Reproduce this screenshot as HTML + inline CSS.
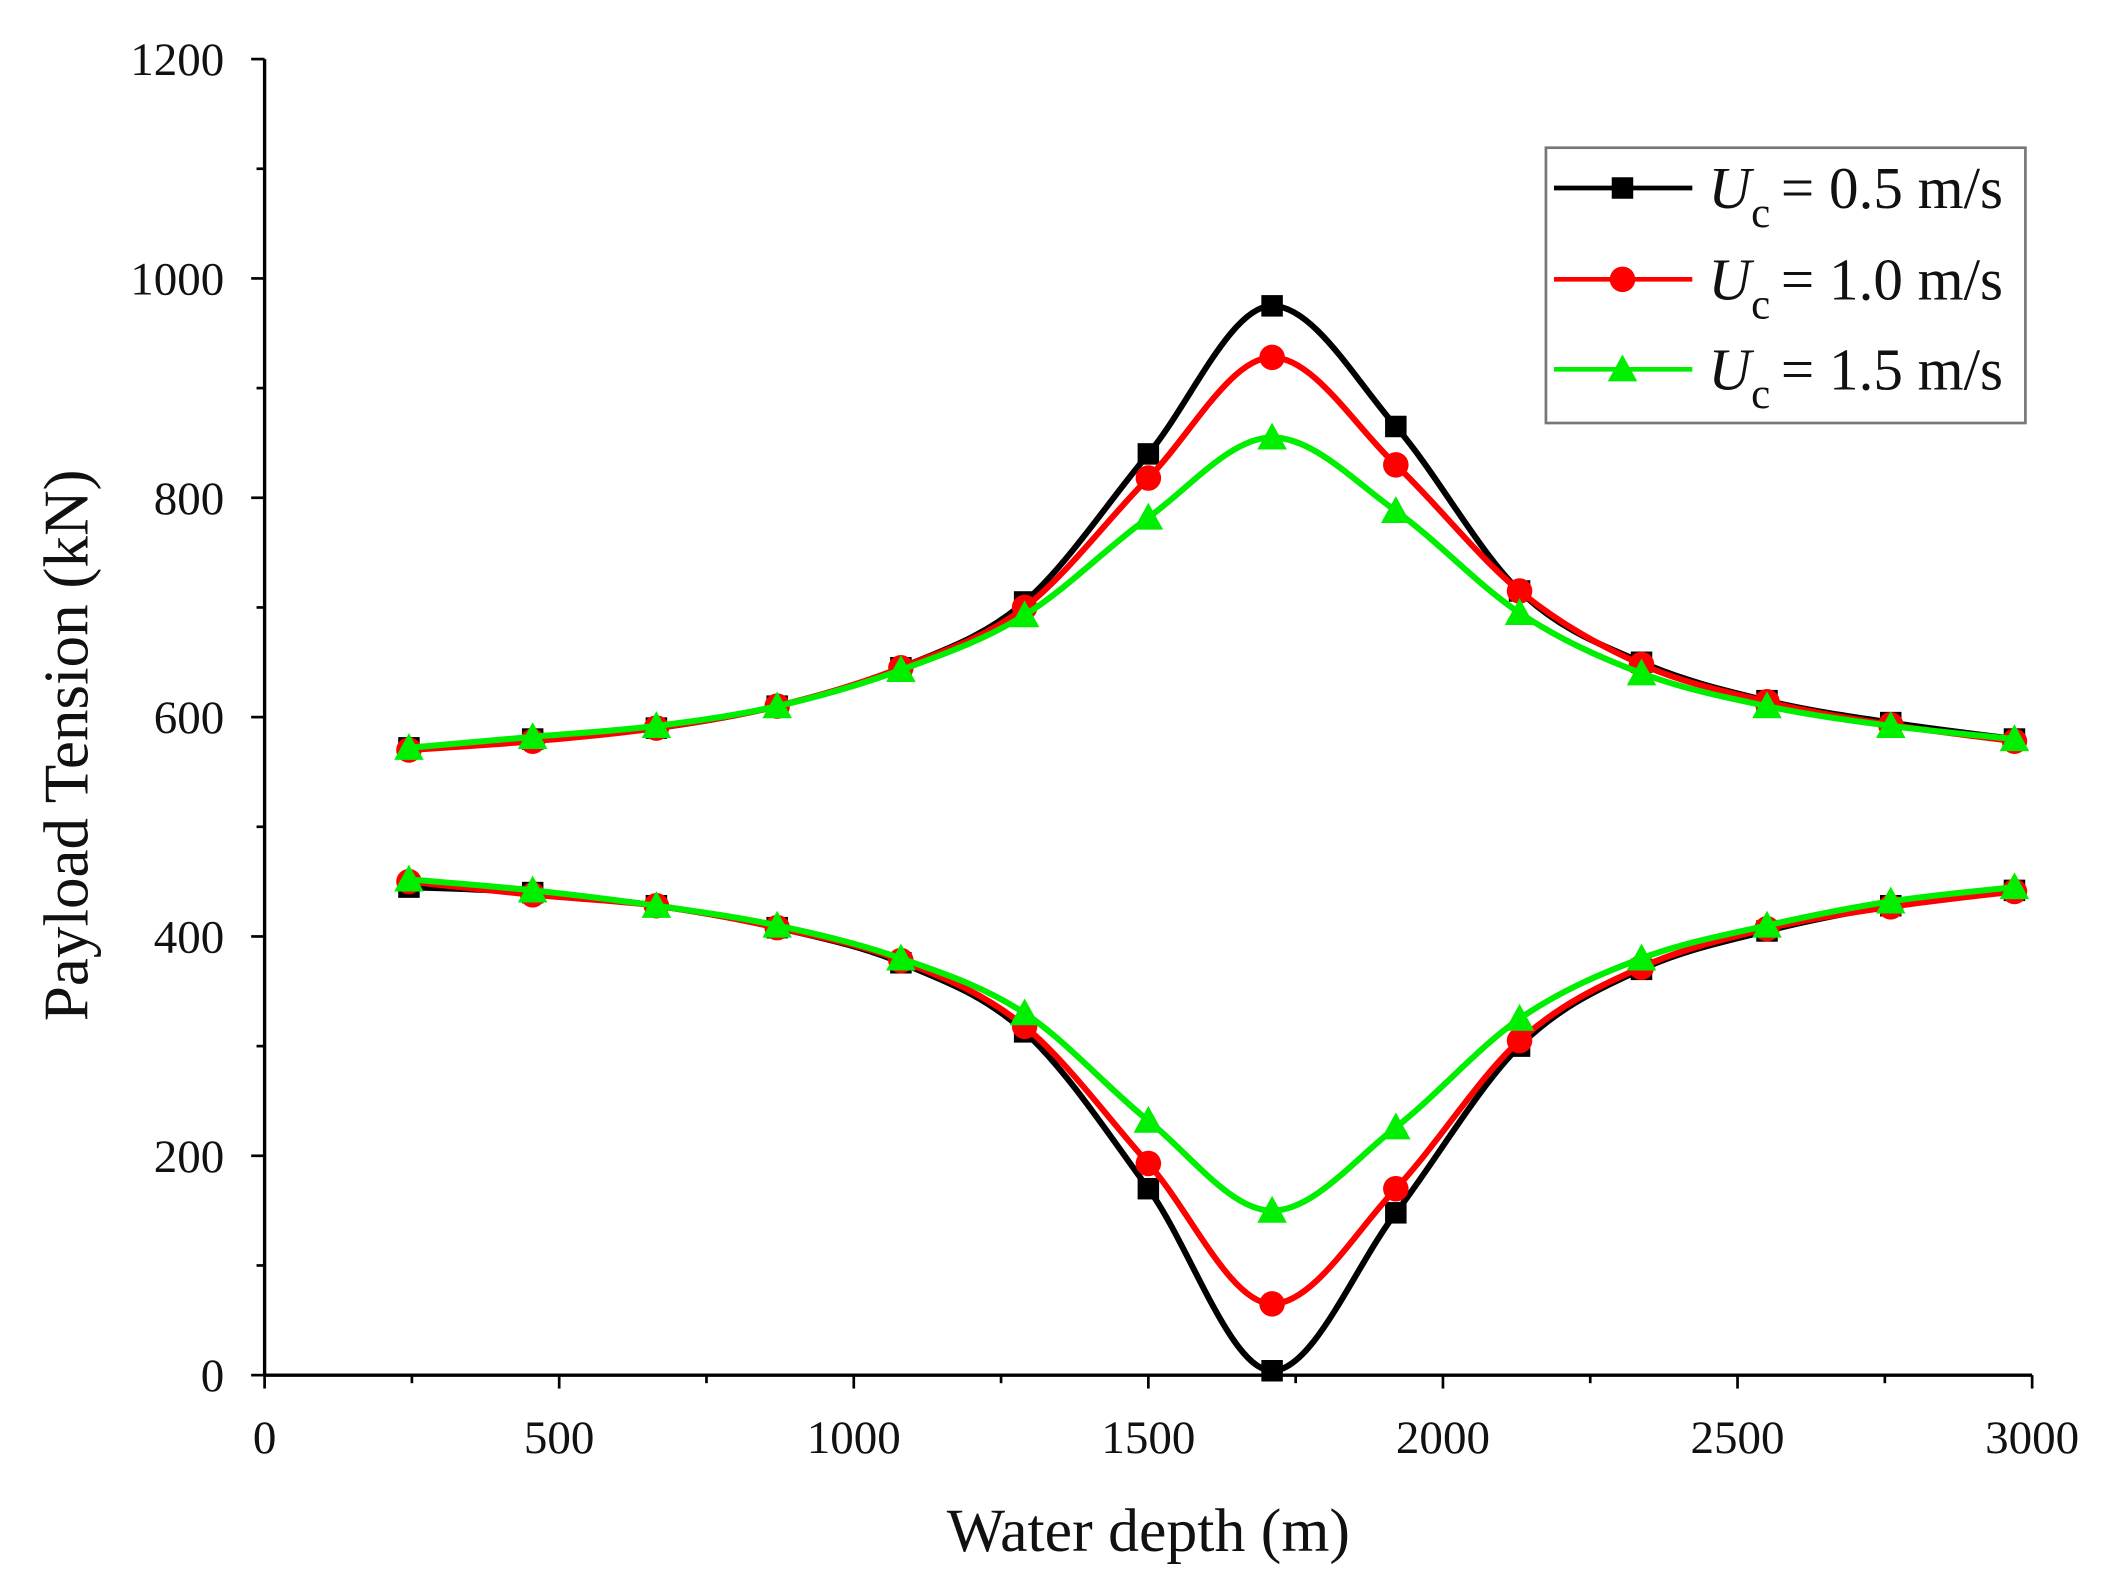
<!DOCTYPE html>
<html><head><meta charset="utf-8"><style>
html,body{margin:0;padding:0;background:#fff}
svg{display:block}
text{font-family:"Liberation Serif",serif;fill:#111}
</style></head><body>
<svg id="chart" width="2106" height="1590" viewBox="0 0 1568 1184" preserveAspectRatio="none" xmlns="http://www.w3.org/2000/svg">
<g id="axes"></g>
<g id="series"></g>
<g id="legend"></g>
</svg>
<script>
const depths = [245,455,665,870,1080,1290,1500,1710,1920,2130,2337,2550,2760,2970];
const upper05 = [572,580,590,610,645,705,840,975,865,715,650,615,595,580];
const upper10 = [570,578,590,610,645,700,818,928,830,715,648,614,593,578];
const upper15 = [572,582,592,610,643,693,782,855,788,695,640,610,592,580];
const lower05 = [445,440,428,408,376,313,170,4,148,300,370,405,428,442];
const lower10 = [450,438,428,408,378,318,193,65,170,305,372,407,427,441];
const lower15 = [452,442,428,410,380,330,232,150,226,325,380,410,432,445];
const xTicks = [0,500,1000,1500,2000,2500,3000];
const yTicks = [0,200,400,600,800,1000,1200];
const legendLabels = ["= 0.5 m/s","= 1.0 m/s","= 1.5 m/s"];

const NS="http://www.w3.org/2000/svg";
const X0=197,X1=1513,Y0=1024,Y1=44;
function sx(v){return X0+(v/3000)*(X1-X0);}
function sy(v){return Y0-(v/1200)*(Y0-Y1);}
function mk(tag,attrs,parent){const e=document.createElementNS(NS,tag);for(const k in attrs)e.setAttribute(k,attrs[k]);parent.appendChild(e);return e;}
const axes=document.getElementById('axes');
const ser=document.getElementById('series');
const leg=document.getElementById('legend');

let ax=mk('line',{x1:X0,y1:Y0,x2:X1,y2:Y0,stroke:'#000','stroke-width':2.5},axes);


let ay=mk('line',{x1:X0,y1:Y0,x2:X0,y2:Y1,stroke:'#000','stroke-width':2.5},axes);


for(let v=0;v<=3000;v+=250){const major=v%500===0;
 mk('line',{x1:sx(v),y1:Y0,x2:sx(v),y2:Y0+(major?10:6),stroke:'#000','stroke-width':2},axes);}
for(let v=0;v<=1200;v+=100){const major=v%200===0;
 mk('line',{x1:X0,y1:sy(v),x2:X0-(major?10:6),y2:sy(v),stroke:'#000','stroke-width':2},axes);}
xTicks.forEach(v=>{const t=mk('text',{x:sx(v),y:Y0+58,'text-anchor':'middle','font-size':35},axes);t.textContent=v;
 
 });
yTicks.forEach(v=>{const t=mk('text',{x:X0-30,y:sy(v)+12,'text-anchor':'end','font-size':35},axes);t.textContent=v;
 
 });
let xt=mk('text',{x:855,y:1155,'text-anchor':'middle','font-size':46},axes);xt.textContent='Water depth (m)';


let yt=mk('text',{x:0,y:0,'text-anchor':'middle','font-size':47,transform:'translate(65,555) rotate(-90)'},axes);yt.textContent='Payload Tension (kN)';



function pathD(xs,ys){const p=xs.map((x,i)=>[sx(x),sy(ys[i])]);let d='M'+p[0][0]+','+p[0][1];
 const n=p.length;
 const tan=p.map((b,i)=>{const a=p[Math.max(0,i-1)],c=p[Math.min(n-1,i+1)];
  if(i>0&&i<n-1&&(b[1]-a[1])*(c[1]-b[1])<0) return [(c[0]-a[0])/2,0];
  return [(c[0]-a[0])/2,(c[1]-a[1])/2];});
 for(let i=0;i<n-1;i++){const b=p[i],c=p[i+1];
  const c1=[b[0]+tan[i][0]/3,b[1]+tan[i][1]/3],c2=[c[0]-tan[i+1][0]/3,c[1]-tan[i+1][1]/3];
  d+=` C${c1[0]},${c1[1]} ${c2[0]},${c2[1]} ${c[0]},${c[1]}`;}
 return d;}
function marker(type,x,y,color,parent){
 if(type==='square') return mk('rect',{x:x-8,y:y-8,width:16,height:16,fill:color},parent);
 if(type==='circle') return mk('circle',{cx:x,cy:y,r:9.5,fill:color},parent);
 return mk('polygon',{points:`${x},${y-11} ${x-11},${y+9} ${x+11},${y+9}`,fill:color},parent);}
const seriesDefs=[
 {name:'upper-0-5',ys:upper05,c:'#000',m:'square'},
 {name:'upper-1-0',ys:upper10,c:'#ff0000',m:'circle'},
 {name:'upper-1-5',ys:upper15,c:'#00ee00',m:'triangle'},
 {name:'lower-0-5',ys:lower05,c:'#000',m:'square'},
 {name:'lower-1-0',ys:lower10,c:'#ff0000',m:'circle'},
 {name:'lower-1-5',ys:lower15,c:'#00ee00',m:'triangle'}];
seriesDefs.forEach(s=>{
 const g=mk('g',{},ser);
 
 
 const p=mk('path',{d:pathD(depths,s.ys),fill:'none',stroke:s.c,'stroke-width':4.5,'stroke-linejoin':'round'},g);
 
 
 depths.forEach((d,i)=>{const m=marker(s.m,sx(d),sy(s.ys[i]),s.c,g);
  
  });
});

let lb=mk('rect',{x:1151,y:110,width:357,height:205,fill:'#fff',stroke:'#777','stroke-width':2},leg);


const lc=['#000','#ff0000','#00ee00'],lm=['square','circle','triangle'];
[140,208,275].forEach((y,i)=>{
 const g=mk('g',{},leg);
 
 
 mk('line',{x1:1157,y1:y,x2:1260,y2:y,stroke:lc[i],'stroke-width':3.5},g);
 marker(lm[i],1208,y,lc[i],g);
 const t=mk('text',{x:1272,y:y+15,'font-size':44},g);
 const u=mk('tspan',{'font-style':'italic'},t);u.textContent='U';
 const c=mk('tspan',{'font-size':32,dy:14},t);c.textContent='c';
 const r=mk('tspan',{dy:-14,dx:8},t);r.textContent=legendLabels[i];
});
</script>
</body></html>
